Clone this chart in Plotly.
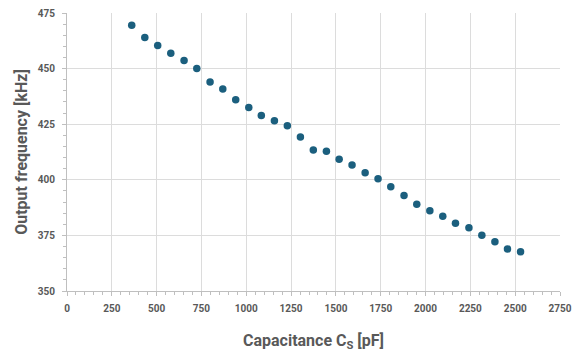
import plotly.graph_objects as go

capacitance_pf = [361, 434, 506, 579, 653, 724, 798, 869, 941, 1014, 1084, 1157, 1229,
                  1302, 1374, 1447, 1518, 1590, 1663, 1735, 1806, 1880, 1951, 2024,
                  2096, 2167, 2242, 2314, 2387, 2457, 2530]
frequency_khz = [469.5, 464.0, 460.4, 456.9, 453.6, 450.0, 444.0, 440.8, 436.0, 432.5,
                 428.9, 426.5, 424.3, 419.3, 413.4, 412.8, 409.2, 406.6, 403.2, 400.5,
                 396.9, 392.9, 389.0, 386.1, 383.6, 380.5, 378.4, 375.1, 372.2, 368.9, 367.6]

x_ticks = [0, 250, 500, 750, 1000, 1250, 1500, 1750, 2000, 2250, 2500, 2750]
y_ticks = [350, 375, 400, 425, 450, 475]

gray = "#595959"
grid = "#dcdcdc"

fig = go.Figure(go.Scatter(
    x=capacitance_pf, y=frequency_khz, mode="markers",
    marker=dict(color="#1b5f7e", size=7.5, line=dict(width=0)),
))

fig.update_layout(
    width=580, height=352,
    margin=dict(l=67, r=20, t=13, b=61),
    paper_bgcolor="white", plot_bgcolor="white",
    showlegend=False,
    font=dict(family="Roboto, Liberation Sans, sans-serif", color=gray),
)
fig.update_xaxes(
    range=[0, 2750], tickvals=x_ticks, automargin=False,
    showgrid=True, gridcolor=grid, gridwidth=1,
    showline=True, linecolor="#bfbfbf", linewidth=1,
    ticks="outside", ticklen=4, tickcolor="#bfbfbf",
    minor=dict(ticks="outside", ticklen=3, dtick=50, tickcolor="#bfbfbf", showgrid=False),
    tickfont=dict(size=10, color=gray, weight="bold"), ticklabelstandoff=4,
    title=dict(text="Capacitance C<sub>S</sub> [pF]", font=dict(size=16, color=gray, weight="bold"), standoff=21),
    zeroline=False, mirror=False,
)
fig.update_yaxes(
    range=[350, 475], tickvals=y_ticks, automargin=False,
    showgrid=True, gridcolor=grid, gridwidth=1,
    showline=True, linecolor="#bfbfbf", linewidth=1,
    ticks="outside", ticklen=4, tickcolor="#bfbfbf",
    minor=dict(ticks="outside", ticklen=3, dtick=5, tickcolor="#bfbfbf", showgrid=False),
    tickfont=dict(size=10, color=gray, weight="bold"), ticklabelstandoff=5,
    title=dict(text="Output frequency [kHz]", font=dict(size=16, color=gray, weight="bold"), standoff=6),
    zeroline=False,
)

# remove the page's default 8px body margin so the figure sits at the window's corner
fig.write_html("out.html", config={"displayModeBar": False},
               post_script="document.body.style.margin='0';")
